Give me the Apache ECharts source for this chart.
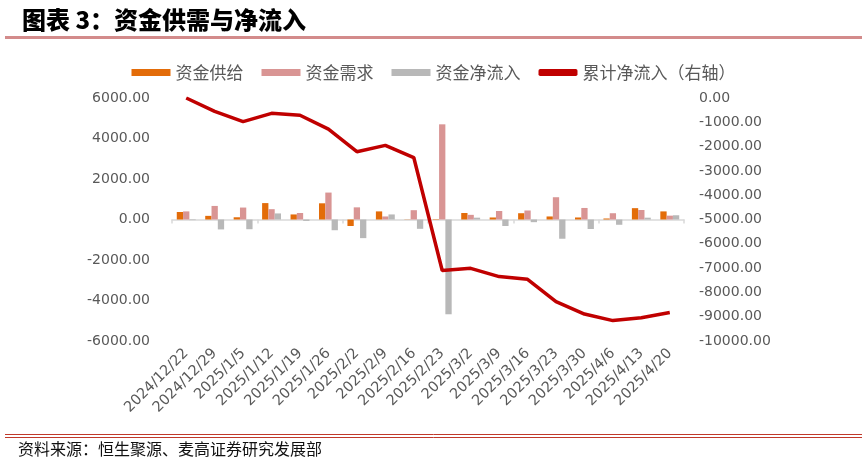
<!DOCTYPE html>
<html>
<head>
<meta charset="utf-8">
<script src="https://cdn.jsdelivr.net/npm/echarts@6/dist/echarts.min.js"></script>
<style>
html,body{margin:0;padding:0;background:#fff;}
#c{width:867px;height:465px;}
</style>
</head>
<body>
<div id="c"></div>
<script>
var categories = ['2024/12/22','2024/12/29','2025/1/5','2025/1/12','2025/1/19','2025/1/26','2025/2/2','2025/2/9','2025/2/16','2025/2/23','2025/3/2','2025/3/9','2025/3/16','2025/3/23','2025/3/30','2025/4/6','2025/4/13','2025/4/20'];
var supply = [370, 180, 110, 810, 250, 800, -320, 400, 10, 20, 320, 100, 310, 150, 100, 50, 560, 400];
var demand = [400, 670, 590, 510, 320, 1330, 600, 150, 460, 4700, 230, 420, 445, 1100, 570, 310, 470, 190];
var netFlow = [-30, -490, -480, 300, -70, -530, -920, 250, -460, -4680, 90, -320, -132, -950, -470, -260, 90, 210];
var cumulative = [0, -550, -970, -630, -710, -1280, -2210, -1950, -2450, -7100, -7010, -7350, -7460, -8380, -8890, -9160, -9040, -8830];
var leftTicks = {min: -6000, max: 6000, interval: 2000};
var rightTicks = {min: -10000, max: 0, interval: 1000};

var chart = echarts.init(document.getElementById('c'));
var axisFont = 'DejaVu Sans';
var cjk = '"Noto Sans CJK SC", sans-serif';
chart.setOption({
  animation: false,
  backgroundColor: '#fff',
  title: {
    text: '图表 3：资金供需与净流入',
    left: 17, top: 3,
    textStyle: {fontFamily: cjk, fontSize: 24, fontWeight: 900, color: '#000'}
  },
  legend: {
    top: 59, left: 'center',
    itemWidth: 39, itemHeight: 7, itemGap: 18,
    textStyle: {fontFamily: cjk, fontSize: 17, color: '#595959'},
    data: [
      {name: '资金供给', icon: 'rect'},
      {name: '资金需求', icon: 'rect'},
      {name: '资金净流入', icon: 'rect'},
      {name: '累计净流入（右轴）', icon: 'roundRect'}
    ]
  },
  grid: {left: 172, right: 183, top: 98, bottom: 124, containLabel: false},
  xAxis: [
    {
      type: 'category', data: categories, position: 'bottom',
      axisLine: {show: false, onZero: false}, axisTick: {show: false},
      axisLabel: {rotate: 45, interval: 0, margin: 10, fontFamily: axisFont, fontSize: 14.5, color: '#595959'}
    },
    {
      type: 'category', data: categories, position: 'bottom',
      axisLine: {show: true, onZero: true, lineStyle: {color: '#d9d9d9', width: 1.5}},
      axisTick: {show: true, length: 4, inside: false, lineStyle: {color: '#d9d9d9', width: 1.5}},
      axisLabel: {show: false}
    }
  ],
  yAxis: [
    {
      type: 'value', min: leftTicks.min, max: leftTicks.max, interval: leftTicks.interval,
      axisLine: {show: false}, axisTick: {show: false}, splitLine: {show: false},
      axisLabel: {margin: 22, fontFamily: axisFont, fontSize: 14, color: '#595959',
        formatter: function (v) { return v.toFixed(2); }}
    },
    {
      type: 'value', min: rightTicks.min, max: rightTicks.max, interval: rightTicks.interval,
      axisLine: {show: false}, axisTick: {show: false}, splitLine: {show: false},
      axisLabel: {margin: 15, fontFamily: axisFont, fontSize: 14, color: '#595959',
        formatter: function (v) { return v.toFixed(2); }}
    }
  ],
  series: [
    {name: '资金供给', type: 'bar', data: supply, xAxisIndex: 0, yAxisIndex: 0,
      barWidth: 6.3, barGap: '0%', itemStyle: {color: '#e36c09'}},
    {name: '资金需求', type: 'bar', data: demand, xAxisIndex: 0, yAxisIndex: 0,
      barWidth: 6.3, barGap: '0%', itemStyle: {color: '#d99594'}},
    {name: '资金净流入', type: 'bar', data: netFlow, xAxisIndex: 0, yAxisIndex: 0,
      barWidth: 6.3, barGap: '0%', itemStyle: {color: '#b8b8b8'}},
    {name: '累计净流入（右轴）', type: 'line', data: cumulative, xAxisIndex: 0, yAxisIndex: 1,
      symbol: 'none', lineStyle: {color: '#c00000', width: 3.5}, itemStyle: {color: '#c00000'}, z: 5}
  ],
  graphic: [
    {type: 'line', shape: {x1: 5, y1: 37.5, x2: 862, y2: 37.5}, style: {stroke: '#d38b8b', lineWidth: 3}},
    {type: 'line', shape: {x1: 5, y1: 434.5, x2: 862, y2: 434.5}, style: {stroke: '#c0392b', lineWidth: 1}},
    {type: 'line', shape: {x1: 5, y1: 437.5, x2: 862, y2: 437.5}, style: {stroke: '#c0392b', lineWidth: 1}},
    {type: 'text', left: 18, top: 441, style: {text: '资料来源：恒生聚源、麦高证券研究发展部', font: '16px "Noto Sans CJK SC"', fill: '#111'}}
  ]
});
</script>
</body>
</html>
